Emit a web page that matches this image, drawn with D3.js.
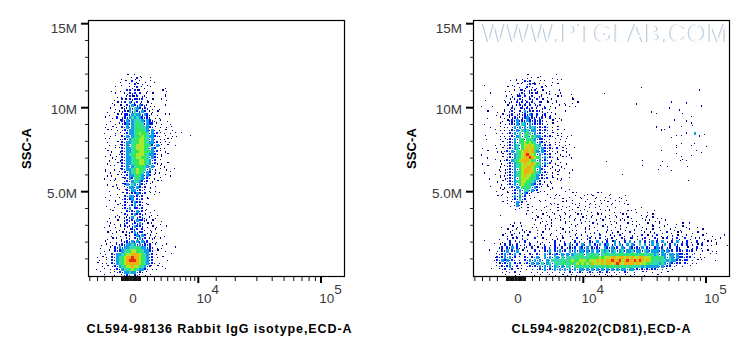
<!DOCTYPE html>
<html><head><meta charset="utf-8">
<style>html,body{margin:0;padding:0;background:#fff}svg{display:block}text{font-family:"Liberation Sans",Arial,sans-serif}</style>
<script src="https://cdn.jsdelivr.net/npm/d3@7/dist/d3.min.js"></script>
</head><body><svg id="c" width="750" height="356"></svg>
<script>
// ---- data -------------------------------------------------------------
const panelTitles = ["CL594-98136 Rabbit IgG isotype,ECD-A", "CL594-98202(CD81),ECD-A"];
const yLabel = "SSC-A";
const yMajor = [15, 10, 5];
const yMajorLabels = ["15M", "10M", "5.0M"];
const yMinor = [14, 13, 12, 11, 9, 8, 7, 6, 4, 3, 2, 1];
const xMajor = [1e4, 1e5];
const xMajorExp = ["4", "5"];
const xMinor = [-5700,-4500,-3400,-2300,-1000,-800,-600,-400,-200,0,200,400,600,800,1000,2000,3000,4000,5000,6000,7000,7900,8700,9400,14000,20000,30000,40000,50000,60000,70000,80000,90000];
const levelColors = ["#fff","#00008c","#0018e8","#10a0e8","#38d8b0","#30e860","#a8e828","#f0b010","#f02a10"];

// density raster. Digits are density levels, a b c are
// single events placed in other corners of a cell, x a small blue event.
const leftRows = [
"............c..1.a",
"..........b...1a2.1..c",
".........a.c1.2.b1.a.c.b",
"..........b..1.2c.x.a",
".......c.....1a12.1b.c.....a",
"......b..a..22.2c1..a.....c.b",
".......c...1a2x2b2..1.c....a",
"........a.b.12c12.x1b......c",
".......b..2c12x2212.a.c...1.b",
"......a.c.12.31x2a1.c.b",
".......1.c1b2x32x32x1a.b...c",
".....c.a..2x13x432x2x.a..b",
"....a..b.1x2c3x42x32.1a.c",
".....b..c.122x3433x32b1.a..c.1",
"...c..a.2.x2x343432x2x.a.b",
".....a...c2x3x34443x32xb.c..a",
"....b..a.1x23x34544x322.1.b..a",
"...a..c.b.2x3x34554432xc.a..b.1",
"....c.1.a.x2x33455543x3x.b.c1.a",
"...b...a.c.x233456554x3x2c.b.a.c..1",
".....a.c..2x3x3455654332xb.c..a.b....c",
"...c.1...ax2x34556654x3x.a.bc.1",
"....a...c.2x33455665433x2a.c.b",
".....b.a.c2x3x456665542x3x1.c..a",
"...a...c.12x334566654x32.a.b",
"....c.b..a2x33455665543x2c.a",
".....a...x2x345566654332x.b.c",
"...c..a.1.2x334566554x32x.1",
".....b.c.a2x3345566543x2.c",
"....a...c.2x3345566543x2a.b.c",
".....c.1..2x3x3455543x3x.c.b",
"...a...b.c2x33456554x3xa.c..b..1",
"...c.a...1x2x345654x32.a.b...c",
"....a.b.c.1x2334553x32.1...c.a",
"...b...a..c2x324543x2x.b.c",
".....c.1...x2x34432x2.a.c.1",
"....a...b.c23x43x32x1c",
"......c.a..1x33x32x2.a.c",
".....b...1.c2x33x2x1.b.a",
"........a.c.2x2232x2.c.b.1",
"...a.c...b.2x33x2x2.a",
".....b.a..x2x23.2x2.c",
".......c.a.2x.2322x.b",
"....b...c.x2.x23x2x.c",
".....a.1..x2x3.22x2.b",
"......c...b.2x2x3x2c.a.1",
"........a..2x.2322xc..b.a",
".....b.c.1.x1x3.x2xb.1.a",
"....a...c..x2x2x322x1.c...b",
".....c.b.a.x2.x2x3x.c.1..a",
"...b.1.a.c.2x1x322x.a.c.b...1",
".....a...b.1.c2x2.2b.a.c..b",
"....c.a.1.c.1x23x22.a.1.b",
"......b..a.c1x.23x32.c.a...b",
"....a.c.1.b.1x.2x3x2.1x1.c",
"...c.a..b.1x2x3x3x3x2.a.b",
"..b.1.a.1x2x3343x3x2x2.c..a.1",
".a...c.2x3x334445433x2x.a.b....c",
"...b.1.2x2344566554332x.c..a",
".c.a..2x3345667776543x2.b.....1",
"a.c.b.2x3456778776543x2.a.c",
".b..1.2x3456788876543x2.....a",
"c.a.b.2x3456777776543x2x.b",
"..a.c.x2x34566766543x21.c.a",
"b..1.a.x2x3445654332x.a.b..c",
".c...a.1x2x33433x2x.1",
"...1...b..1x2x.2x1.a.c"
];

const rightRows = [
"..................c....a......1",
"..............b.a.x.1.c.....x.a.b",
"...........c..1.a2x2.b.c.1..a",
".b..........a.c.1.x2c2.1.a..b.c",
"..........c..1.x.a21x.b.2.1",
".........a.b.1.c2x.x12a.c..b...1",
"...c........b.ax2x.12c2.b.1x.a.c....b",
"..........1.x.c2a2.x2b.x1.a...c.1...a",
".a.......b.c.1x2xa.2x.2.c.a.1.b.....c",
".........c.x1.2x2a2x2b.21.c.a.1..b..a.c",
"b...a.....c.x.12x2a2.cx2.b.a...1.c.b.a",
".........b.a2x.c2x2x2.1.x2.b.c",
"..c...a..1.x2b.2a3x2c.21x.a.b....c",
"......b.c.ax2.x1x2x32.2.x2.a.c",
"..a....c.b.1x2x1x23x2x1x2c.2.a.b",
"........a.cx2x3x2x32x2x2x.b.c.a.1",
".b.....c.a.x2x3x43x3x2x2x.a.c",
"...a...c.bx.x3x3x3x343x2x2x.a.c",
".....c.a.b.x2x3x434x33x2x2x.a.c..1",
"......b.a.x2x3x4x454x3x2x1x.c.a.b",
".c.....a.b.x2x34x54x5433x2x2a.c.b.a.1",
"..b....a.cx2x3x45x5543x22x.x.c.a..1",
"........c.x2x3x4565654x32x1x.a.b.c",
".....a.c.bx2x34x56676543x2x2.c.b.a.1",
"a.....b.c.x2x34x5676754x32x2x.2.c.b..1",
"..c...a.bx2x3x456776753x32x1x.a.c.b",
"b.......c.x2x345678765x3x2x2.c.a...b",
"..a.....c.x2x34567787654x3x2x.a.c.1.b",
".....c.a.x2x3456777654x3x2x.b.c",
"a.......b.x2x34567667654x3x2.a.c..b",
"..c....a.1x2x34566776543x2x.a.c.b",
".......b.ax2x3x5677765x32x.c.a.b.1..a",
".b.....c.ax2x34567767543x2x.a.c....b",
".....c.a.bx2x3456766543x2x1.a.c",
"...b...c.ax2x3x56665543x2x2.c.a.b..1",
"......a.c.x2x345665543x2.b.a...c",
"........b.x2x3x5655432x2x.a.1",
"...c...a.b.x2x3x5454x32x1.c.a...b",
"......b.c.a.x2x3x44x3x2a.b.c.....a.1",
"........a.c.x2x4x32x1.c...a...b.....c.1...a.b.c.1..a",
"......c.1.a.x3x3x2.1.b.....a.c.1...b.c.a.1..c.b..a.1...b.c",
"..........a.x2x4x2.c...b.a...1..c.b.a...1.x..c.a.b.c.a..1.b",
"........c.a.1x3x2.1....c...a.b..c.1.a..b.c.a.1..b.c.a..1.b",
"...........a.x3x1.c.a.....b.1.c.a..b.c.x.a.1.c.b..a.1.....c",
".............a.x1.c...b..1.a..c.b.1.a.c..b.1.c.a...b.c.......a..1",
"..................c.a...1.b.a.c..b.1.a.c..x.b.a..c.1.b.a..c.1.b...a..1",
".......a..........1...b.c.a..1.b.c.a..c.1.b.a.c.1..b.a..c.1.....b.a.c",
"....................a.c.b..1.a.c.b.1.a..c.b.1..a.c.b..1.a.c.b...a.1.c.a.b",
".....................c..a.b.1..c.a.b.1.c.a.b..1.c..a.b.c.1..a.b..c.1.a.b.c",
".......... .a.1.c.... .b.c..a.1. ...c..b.a. 1...c.x..a ..b.1...c. a..b..c.a. .1..a...b. c..1",
"........b. ..c.a.1... a.b..c..1. .a...b.c.. .a.1.b..c. x..a.c..b. ..1.a...c. .b.1...a.. c.b...a",
".......... c.a.1.x.b. ..a..c.1.. b.c...a.b. .c.1..a... x.b..c.a.. .x..b.1.c. .a...c.b.a ...1....c",
".........a .c.b.x.1.2 ..a.c...b. .a.c.1..b. .c.a.x.b.. 1.x.c.a..2 .b...1.c.x ..a.2.b.c. 1...a.c... b",
"........c. a.2.b.x.c. ..a.1..c.. b.x..a.c.. 1.x.b..2.a .c.x.2.b.. x.a.2.c.x. 2.b.a.x.c. a.1.b...c. ..a....1",
".......b.. x.c.2.x.a. .2..c.b.a. x.c...a.2. b.x2.c.2.a x.2.b.2x.c 2.a.x2.b.2 x.c.2.x.2b .2.a.c.1.b ...a.c",
"........a. .2.c.x.2.b ..x.a..b.2 .c.x.a.2.x .b.2x.3.x. 2.c3.x.2.3 .x.3.2.x3. 2.3.x.2.3. x.2.b.2.a. c.1.b",
".......c.2 .2x.2a.x.2 .b.c.x.a.2 .x.2.3x.2. 3x.3.2x3.2 3.x3.3x.3. 3x.4.3.x3. 3.x3.2.3x. 2.2.x.c.2. a.b.1...a",
".......x2. 2x3.2b.x1. 2.c.x2.x.2 x.2.x2x2.3 2x3.2x2x.3 2x3x2.3x.3 2x2x3.2x.2 3x2.x2..2x ..c.a.2.b.",
"......a.2x 3.2x3.c.x. .2.x.2x3.2 x3x2.3x3x3 3x3x3.3x43 4x34x34x33 4x33x43x33 3x3x3x2.22 x.2x2.1.x. c.a.b",
"......1x23 x2x3.2.b.2 x.2x.3x2x3 2x3x3x3444 4x44544x44 5445455454 5545544543 4x33x33x32 2x2.x1.a.. .c..1",
".....a2x23 x3x2.1.2x. 2x3x.3x3x4 3x4x444454 5445555656 6677677676 7667766654 5543x43x32 2x22.x.a.b",
".....x2x32 3x2x.x.2x3 x3x3x.3x44 4445456556 6656667676 7787786787 7878767654 4544343322 x22.x.c.1. ...a",
"......12x2 x3.2x2.x2x 3x3x4x34x4 4455455465 6565766676 7767876777 7676665544 4343x32x22 .2x.a.b",
".......x2x 23x.2.1.x2 x2x3x3x3x3 4x3x44x454 4544544454 5554554545 4444343333 3x3x22.x1. a..c",
".......1x2 .x2.c.1.b. x.x2x3x2x3 x3x3x3x3x3 3x3x3x3x3x 3x3x3x33x3 3x2x2x2x22 x.x.1.a",
"........a. 1x.2.c.... b.x.a.x.x. .x.x.2x.x2 x.x2x.x2x. 2x.x.x.2x. .x..c.1.a. ..b.c",
".........c ...a.1.... .b.c...1.a ..c.a.1.b. .a.c.b.1.c a.b.1..c.a .1...b.... c"
];

// isolated events of the right panel: [column, row, level]
const rightSparse = [
[64,4.3,1],[87,5,1],[49,6.3,1],[76,9,1],[62,9.7,1],[82,9.3,1],[75,11,1],[88,10.3,1],[68,12.3,1],[70,12.7,1],
[79,11.7,1],[80.4,12.7,1],[84,13.7,1],[77,15,1],[82,15.3,1],[84,16,1],[84.4,16.7,1],[70,17.3,1],[80,17,1],[75,17.3,1],
[73,18,1],[72,18.3,1],[85,19,3],[82,19.3,1],[80,20,1],[78,20,1],[76,20.7,1],[87,20.3,1],[89,19.7,1],[80,22.7,1],
[78,23.3,1],[78,24,1],[84,23.3,1],[85,22.7,1],[90,23.7,1],[86,25,1],[88,25.7,1],[72,25,1],[78,26,1],[84,26.7,1],
[80,27,1],[80.4,28,1],[79.6,28.3,1],[82,28.3,1],[72.4,28.7,1],[64.4,28.3,1],[50,28.7,1],[71.6,30,1],[64.4,30,1],[74.4,30.3,1],
[82.4,30.3,1],[70.8,31.3,1],[76,31.7,1],[56.4,33,1],[82.8,35,1],
[1,54.7,1],[5,55.7,1],[3,58,1],[7,62.3,1],[6,63,1],[4,64,1]
];

// ---- layout -----------------------------------------------------------
const svg = d3.select("#c");
const panelX = [88.5, 473.5], frameW = 256, frameTop = 20.5, frameH = 256;
const gridOffX = 7.5, cellW = 2.5, cellH = 3.024;
const glyphs = {a:{lev:1,dx:1,dy:1.5}, b:{lev:1,dx:0,dy:1.5}, c:{lev:1,dx:1.2,dy:0}, x:{lev:2,dx:0.6,dy:1,s:1.3}};

const yScale = d3.scaleLinear().domain([0, 15]).range([275.7, 23.7]);
const xHigh = d3.scaleLog().domain([1e4, 1e5]).range([109.8, 232.5]);
const xLow = d3.scalePow().exponent(0.875).domain([0, 1e4]).range([42.5, 109.8]);
const xScale = v => v >= 1e4 ? xHigh(v) : xLow(v);
const rowSSC = d3.scaleLinear().domain([0, 1]).range([12, 11.82]);

function cells(rows) {
  const out = [];
  rows.forEach((r, i) => {
    Array.from(r.replace(/ /g, "")).forEach((ch, j) => {
      if (ch === ".") return;
      const g = glyphs[ch] || {lev: +ch, dx: 0, dy: 0};
      out.push({col: j, row: i, lev: g.lev, dx: g.dx, dy: g.dy, s: g.s});
    });
  });
  return out;
}

function drawPanel(i, rows, sparse) {
  const g = svg.append("g").attr("transform", `translate(${panelX[i]},0)`);
  const colX = d3.scaleLinear().domain([0, 1]).range([gridOffX, gridOffX + cellW]);
  const all = cells(rows).concat(sparse.map(s => ({col: s[0], row: s[1], lev: s[2], dx: 0, dy: 0})));
  const size = d => d.s || (d.lev === 1 ? 1.3 : d.lev === 2 ? 2.1 : null);
  g.append("g").attr("shape-rendering", "crispEdges").selectAll("rect").data(all).join("rect")
    .attr("x", d => colX(d.col) + d.dx)
    .attr("y", d => yScale(rowSSC(d.row)) + d.dy)
    .attr("width", d => size(d) || cellW)
    .attr("height", d => size(d) || cellH)
    .attr("fill", d => levelColors[d.lev]);

  g.append("rect").attr("x", 0).attr("y", frameTop).attr("width", frameW).attr("height", frameH)
    .attr("fill", "none").attr("stroke", "#000").attr("stroke-width", 1.2);

  // y axis
  g.selectAll("line.ymin").data(yMinor).join("line").attr("class", "ymin")
    .attr("x1", -3.5).attr("x2", 0).attr("y1", d => yScale(d)).attr("y2", d => yScale(d))
    .attr("stroke", "#222").attr("stroke-width", 1);
  g.selectAll("line.ymaj").data(yMajor).join("line").attr("class", "ymaj")
    .attr("x1", -7.5).attr("x2", 0).attr("y1", d => yScale(d)).attr("y2", d => yScale(d))
    .attr("stroke", "#000").attr("stroke-width", 2);
  g.selectAll("text.yl").data(yMajor).join("text").attr("class", "yl")
    .attr("x", -11.5).attr("y", d => Math.max(yScale(d) + 6.3, 33))
    .attr("text-anchor", "end").attr("font-size", 13.5).attr("fill", "#3a3a3a")
    .text((d, k) => yMajorLabels[k]);

  // x axis
  g.selectAll("line.xmin").data(xMinor).join("line").attr("class", "xmin")
    .attr("x1", d => xScale(d)).attr("x2", d => xScale(d)).attr("y1", 276.5).attr("y2", 281)
    .attr("stroke", "#111").attr("stroke-width", d => Math.abs(d) <= 1000 ? 2 : 1);
  g.selectAll("line.xmaj").data(xMajor).join("line").attr("class", "xmaj")
    .attr("x1", d => xScale(d)).attr("x2", d => xScale(d)).attr("y1", 276.5).attr("y2", 283)
    .attr("stroke", "#000").attr("stroke-width", 2);
  g.append("text").attr("x", xScale(0) + 2).attr("y", 303.3).attr("text-anchor", "middle")
    .attr("font-size", 13.5).attr("fill", "#3a3a3a").text("0");
  const xl = g.selectAll("text.xl").data(xMajor).join("text").attr("class", "xl")
    .attr("x", d => xScale(d) - 1.8).attr("y", 303.3).attr("font-size", 13.5).attr("fill", "#3a3a3a").text("10");
  xl.append("tspan").attr("dy", -9.3).text((d, k) => xMajorExp[k]);

  // labels
  g.append("text").attr("transform", "translate(-62.5,148.5) rotate(-90)").attr("text-anchor", "middle")
    .attr("font-size", 13).attr("font-weight", "bold").attr("fill", "#000").attr("dy", 4.6)
    .attr("textLength", 41).attr("lengthAdjust", "spacing").text(yLabel);
  const labelCx = [130.5, 127.5], labelW = [265, 179];
  g.append("text").attr("x", labelCx[i] - labelW[i] / 2).attr("y", 332.8)
    .attr("font-size", 12.5).attr("font-weight", "bold").attr("fill", "#000")
    .attr("textLength", labelW[i]).attr("lengthAdjust", "spacing").text(panelTitles[i]);
  return g;
}

drawPanel(0, leftRows, []);
const right = drawPanel(1, rightRows, rightSparse);

// watermark of the right panel
const defs = svg.append("defs");
defs.append("filter").attr("id", "soft").append("feGaussianBlur").attr("stdDeviation", 0.5);
const wm = "WWW.PTGLAB.COM";
right.append("text").attr("x", 8.3).attr("y", 41.5).attr("font-size", 25).attr("fill", "#bcbcbc")
  .attr("textLength", 246).attr("lengthAdjust", "spacingAndGlyphs").attr("filter", "url(#soft)").text(wm);
right.append("text").attr("x", 9.3).attr("y", 42.2).attr("font-size", 25).attr("fill", "#fdfdfd")
  .attr("textLength", 246).attr("lengthAdjust", "spacingAndGlyphs").text(wm);
</script></body></html>
